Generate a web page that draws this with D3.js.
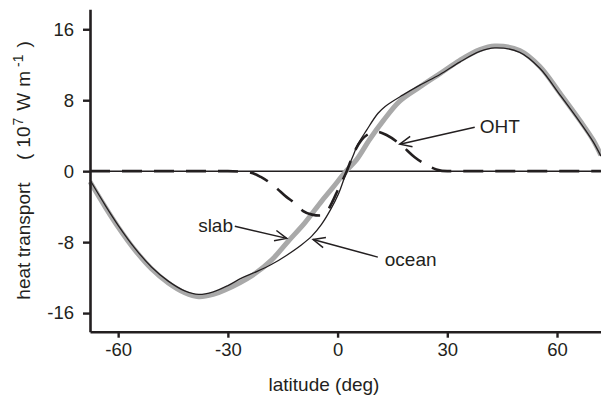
<!DOCTYPE html>
<html>
<head>
<meta charset="utf-8">
<script src="https://cdn.jsdelivr.net/npm/d3@7"></script>
<style>
  html, body { margin: 0; padding: 0; background: #fff; }
  svg { display: block; }
  text { font-family: "Liberation Sans", Arial, sans-serif; fill: #231f20; }
</style>
</head>
<body>
<svg id="chart" width="601" height="399"></svg>
<script>
// Meridional heat transport (10^7 W m^-1) versus latitude (deg)

// slab run: [latitude, transport]
const slab = [
  [-67.7, -1.2], [-63.6, -4.0], [-60, -6.3], [-55.4, -8.9], [-50.9, -11.0],
  [-46.3, -12.6], [-41.8, -13.7], [-38, -14.15], [-34, -13.9], [-30.8, -13.4],
  [-23.5, -11.8], [-18, -10.0], [-13.5, -7.9], [-8.9, -5.8], [-4.4, -3.4],
  [-1.6, -2.0], [2.3, 0], [5.2, 1.3], [8.8, 3.6], [12.5, 5.7], [17, 7.9],
  [22.5, 9.5], [28, 11.0], [33.4, 12.5], [38.9, 13.7], [43, 14.1],
  [49.8, 13.6], [55.3, 11.8], [60.8, 8.8], [66.3, 5.7], [69.9, 3.5], [72, 1.8]
];

// ocean run: [latitude, transport]
const ocean = [
  [-67.7, -1.0], [-63.6, -3.8], [-60, -6.1], [-55.4, -8.7], [-50.9, -10.8],
  [-46.3, -12.4], [-41.8, -13.5], [-38, -13.9], [-34, -13.6], [-30, -12.9],
  [-26, -12.0], [-22, -11.3], [-18, -10.5], [-14, -9.5], [-10, -8.35],
  [-7, -7.3], [-4.4, -6.0], [-2, -4.4], [0.2, -2.6], [2.5, 0], [4.3, 1.8],
  [5.5, 3.0], [7.9, 4.6], [11, 6.5], [13, 7.3], [17.9, 8.6], [22.5, 9.7],
  [28, 10.9], [33.4, 12.3], [38.9, 13.5], [43, 13.9], [49.8, 13.4],
  [55.3, 11.6], [60.8, 8.6], [66.3, 5.5], [69.9, 3.3], [72, 1.7]
];

// ocean heat transport (OHT): [latitude, transport]
const oht = [
  [-67.7, 0], [-30, 0], [-24, -0.15], [-21, -0.65], [-17, -1.8], [-14, -2.9],
  [-11.7, -3.6], [-9.4, -4.5], [-7, -4.9], [-4.8, -5.0], [-3, -4.6],
  [-1.6, -3.6], [0.2, -2.0], [2.5, 0], [4.5, 2.1], [6.5, 3.5], [8.5, 4.2],
  [10.7, 4.45], [13.5, 4.05], [17.5, 2.9], [21, 1.6], [24.3, 0.7], [27, 0.2],
  [30, 0], [72, 0]
];

const xTicks = [-60, -30, 0, 30, 60];
const yTicks = [-16, -8, 0, 8, 16];

// labelled arrows: text anchor, arrow tail and arrow tip in data units
const notes = [
  { label: "OHT",   anchor: "start", text: [38.9, 4.28],  tail: [37.5, 4.96],  tip: [17.0, 3.04] },
  { label: "slab",  anchor: "end",   text: [-28.6, -6.87], tail: [-28.1, -6.2], tip: [-13.9, -7.58] },
  { label: "ocean", anchor: "start", text: [12.9, -10.7], tail: [11.0, -9.69], tip: [-6.7, -7.70] }
];

const svg = d3.select("#chart");
const x = d3.scaleLinear().domain([-67.7, 72]).range([90, 600.9]);
const y = d3.scaleLinear().domain([-18.1, 18.25]).range([331.7, 9.3]);

const smooth = d3.line()
  .x(d => x(d[0]))
  .y(d => y(d[1]))
  .curve(d3.curveCatmullRom.alpha(0.5));
const monotone = d3.line()
  .x(d => x(d[0]))
  .y(d => y(d[1]))
  .curve(d3.curveMonotoneX);

const ink = "#231f20";

// zero reference line
svg.append("line")
  .attr("x1", x(-67.7)).attr("x2", 601)
  .attr("y1", y(0)).attr("y2", y(0))
  .attr("stroke", ink).attr("stroke-width", 1.5);

// slab (thick grey)
svg.append("path").datum(slab)
  .attr("d", smooth)
  .attr("fill", "none")
  .attr("stroke", "#a9a9a9")
  .attr("stroke-width", 5);

// ocean (thin black)
svg.append("path").datum(ocean)
  .attr("d", smooth)
  .attr("fill", "none")
  .attr("stroke", ink)
  .attr("stroke-width", 1.3);

// OHT (dashed)
svg.append("path").datum(oht)
  .attr("d", monotone)
  .attr("fill", "none")
  .attr("stroke", ink)
  .attr("stroke-width", 2.6)
  .attr("stroke-dasharray", "20,12");

// axes
const fmt = d => String(d);
const yAxis = svg.append("g")
  .attr("transform", `translate(${x(-67.7)},0)`)
  .call(d3.axisLeft(y).tickValues(yTicks).tickFormat(fmt)
    .tickSize(7).tickPadding(9).tickSizeOuter(0));
const xAxis = svg.append("g")
  .attr("transform", `translate(0,${y(-18.1)})`)
  .call(d3.axisBottom(x).tickValues(xTicks).tickFormat(fmt)
    .tickSize(6).tickPadding(5).tickSizeOuter(0));

[yAxis, xAxis].forEach(g => {
  g.select(".domain").attr("stroke", ink).attr("stroke-width", 2.6);
  g.selectAll(".tick line").attr("stroke", ink).attr("stroke-width", 2.4);
  g.selectAll(".tick text")
    .attr("fill", ink)
    .style("font-family", "'Liberation Sans', Arial, sans-serif")
    .style("font-size", "18.5px");
});

// axis titles
svg.append("text")
  .attr("x", 324).attr("y", 391)
  .attr("text-anchor", "middle")
  .style("font-size", "19px")
  .text("latitude (deg)");

svg.append("text")
  .attr("transform", "translate(30,241) rotate(-90)")
  .attr("text-anchor", "middle")
  .style("font-size", "19px")
  .text("heat transport");

const unit = svg.append("text")
  .attr("transform", "translate(30,160) rotate(-90)")
  .attr("text-anchor", "start")
  .style("font-size", "19px");
unit.append("tspan").text("(");
unit.append("tspan").attr("dx", 6).text("10");
unit.append("tspan").attr("dx", 1).attr("dy", -7).style("font-size", "14px").text("7");
unit.append("tspan").attr("dx", 7).attr("dy", 7).text("W");
unit.append("tspan").attr("dx", 6).text("m");
unit.append("tspan").attr("dx", 4).attr("dy", -7).style("font-size", "14px").text("-1");
unit.append("tspan").attr("dx", 7).attr("dy", 7).text(")");

// annotations with open arrowheads
notes.forEach(n => {
  const [x0, y0] = [x(n.tail[0]), y(n.tail[1])];
  const [x1, y1] = [x(n.tip[0]), y(n.tip[1])];
  svg.append("line")
    .attr("x1", x0).attr("y1", y0).attr("x2", x1).attr("y2", y1)
    .attr("stroke", ink).attr("stroke-width", 1.5);
  const ang = Math.atan2(y0 - y1, x0 - x1);
  const len = 13, spread = 0.42;
  const head = [
    [x1 + len * Math.cos(ang + spread), y1 + len * Math.sin(ang + spread)],
    [x1, y1],
    [x1 + len * Math.cos(ang - spread), y1 + len * Math.sin(ang - spread)]
  ];
  svg.append("path")
    .attr("d", d3.line()(head))
    .attr("fill", "none")
    .attr("stroke", ink).attr("stroke-width", 1.5);
  svg.append("text")
    .attr("x", x(n.text[0])).attr("y", y(n.text[1]))
    .attr("text-anchor", n.anchor)
    .style("font-size", "19px")
    .text(n.label);
});
</script>
</body>
</html>
